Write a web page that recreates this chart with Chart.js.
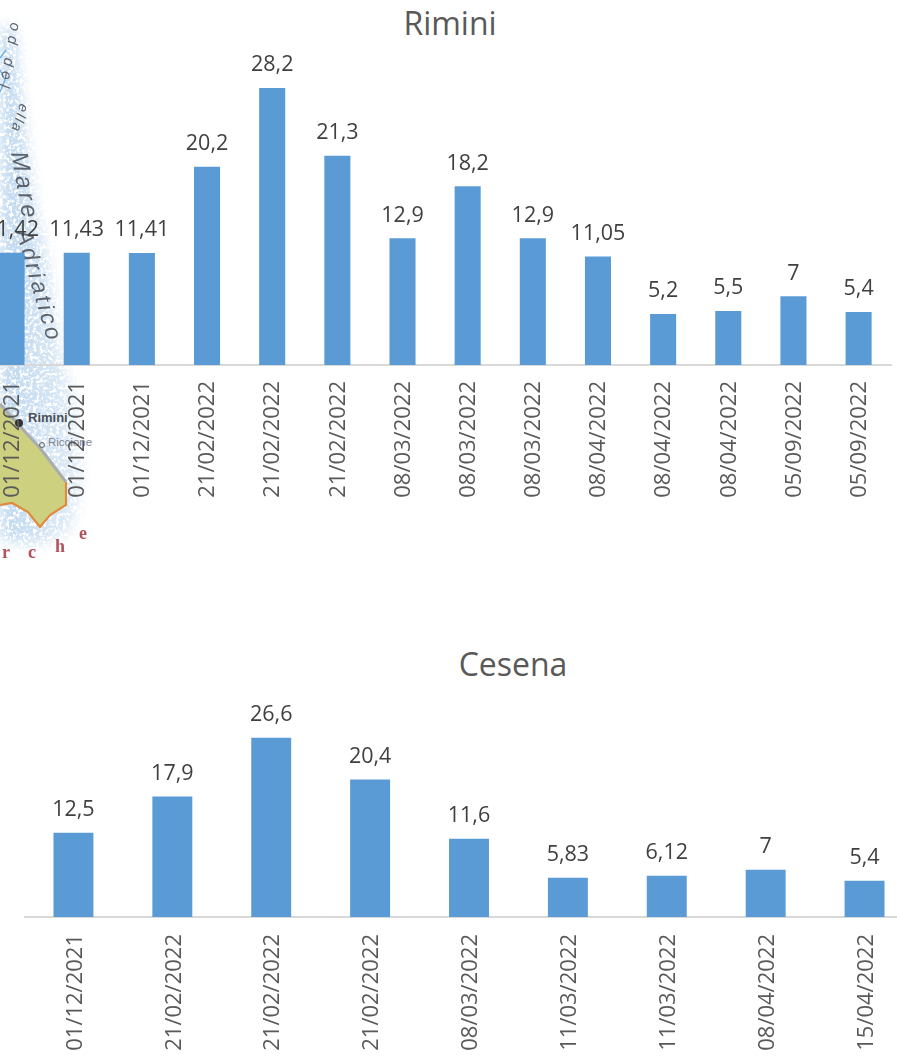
<!DOCTYPE html>
<html>
<head>
<meta charset="utf-8">
<script src="https://cdn.jsdelivr.net/npm/chart.js@4/dist/chart.umd.min.js"></script>
<style>
  html, body { margin: 0; padding: 0; background: #fff; }
  body { position: relative; width: 897px; height: 1058px; overflow: hidden; font-family: "Open Sans", sans-serif; }
  canvas { position: absolute; }
  #map { position: absolute; left: 0; top: 0; }
  .title { position: absolute; color: #595959; font-size: 32px; line-height: 38px; transform: translateX(-50%); white-space: nowrap; }
</style>
</head>
<body>
<svg id="map" width="110" height="600" viewBox="0 0 110 600">
  <defs>
    <filter id="soft" x="-30%" y="-10%" width="160%" height="120%">
      <feGaussianBlur stdDeviation="7" result="blur"/>
      <feTurbulence type="fractalNoise" baseFrequency="0.3" numOctaves="2" seed="4"/>
      <feColorMatrix type="matrix" values="0 0 0 0 1  0 0 0 0 1  0 0 0 0 1  0 0 0 -6 3.1" result="specks"/>
      <feComposite in="blur" in2="specks" operator="out"/>
    </filter>
    <filter id="edge"><feGaussianBlur stdDeviation="0.7"/></filter>
    <linearGradient id="sea" x1="0" x2="1" y1="0" y2="0">
      <stop offset="0" stop-color="#bdd7ef"/>
      <stop offset="1" stop-color="#e2edf7"/>
    </linearGradient>
  </defs>
  <path d="M0 30 L14 24 L24 120 L34 200 L50 270 L58 340 L72 395 L78 440 L82 480 L72 530 L40 545 L0 540 Z" fill="url(#sea)" filter="url(#soft)"/>
  <path d="M0 404 L18 424 L40 448 L66 482 L66 505 L50 515 L40 527 L28 512 L12 503 L0 505 Z" fill="#cdd07f" filter="url(#edge)"/>
  <path d="M66 482 L66 505 L50 515 L40 527 L28 512 L12 503 L0 505" fill="none" stroke="#e08a3c" stroke-width="2.2" filter="url(#edge)"/>
  <path d="M0 404 L18 424 L40 448 L66 482" fill="none" stroke="#a9adb0" stroke-width="3" filter="url(#edge)"/>
  <path d="M0 58 L6 50 M0 70 L5 80 L0 92" fill="none" stroke="#6fb0e2" stroke-width="1.4"/>
  <g fill="#5c646d" font-family="'Liberation Sans', sans-serif" font-style="italic" filter="url(#edge)">
    <text transform="translate(11,22) rotate(100)" font-size="15" letter-spacing="5">od del</text>
    <text transform="translate(20,103) rotate(108)" font-size="14" letter-spacing="2">ella</text>
    <text transform="translate(11,153) rotate(80)" font-size="24" letter-spacing="4">Mare</text>
    <text transform="translate(16,232) rotate(74)" font-size="23" letter-spacing="3">Adriatico</text>
  </g>
  <circle cx="19" cy="423" r="4" fill="#333"/>
  <text x="28" y="422" font-family="'Liberation Sans', sans-serif" font-size="13" font-weight="bold" fill="#4b5058">Rimini</text>
  <circle cx="42" cy="445" r="2.5" fill="none" stroke="#666"/>
  <text x="48" y="446" font-family="'Liberation Sans', sans-serif" font-size="11.5" fill="#7d8794">Riccione</text>
  <g fill="#b0525c" font-family="'Liberation Serif', serif" font-weight="bold" font-size="18" filter="url(#edge)">
    <text x="2" y="558">r</text>
    <text x="28" y="558">c</text>
    <text x="55" y="552">h</text>
    <text x="79" y="539">e</text>
  </g>
</svg>

<div class="title" style="left:450px;top:4px">Rimini</div>
<canvas id="rimini" width="922" height="510" style="left:-21px;top:40px"></canvas>

<div class="title" style="left:513px;top:645px">Cesena</div>
<canvas id="cesena" width="890" height="368" style="left:24px;top:690px"></canvas>

<script>
const riminiDates = ["01/12/2021", "01/12/2021", "01/12/2021", "21/02/2022", "21/02/2022", "21/02/2022", "08/03/2022",
  "08/03/2022", "08/03/2022", "08/04/2022", "08/04/2022", "08/04/2022", "05/09/2022", "05/09/2022"];
const riminiValues = [11.42, 11.43, 11.41, 20.2, 28.2, 21.3, 12.9, 18.2, 12.9, 11.05, 5.2, 5.5, 7, 5.4];

const cesenaDates = ["01/12/2021", "21/02/2022", "21/02/2022", "21/02/2022", "08/03/2022", "11/03/2022", "11/03/2022",
  "08/04/2022", "15/04/2022"];
const cesenaValues = [12.5, 17.9, 26.6, 20.4, 11.6, 5.83, 6.12, 7, 5.4];

const BAR_COLOR = "#5B9BD5";
const FONT = '"Open Sans", sans-serif';

// writes the value above each bar, with a decimal comma
const valueLabels = {
  id: "valueLabels",
  afterDatasetsDraw(chart) {
    const ctx = chart.ctx;
    const values = chart.data.datasets[0].data;
    ctx.save();
    ctx.font = "21.5px " + FONT;
    ctx.fillStyle = "#404040";
    ctx.textAlign = "center";
    ctx.textBaseline = "bottom";
    chart.getDatasetMeta(0).data.forEach((bar, i) => {
      ctx.fillText(String(values[i]).replace(".", ","), bar.x, bar.y - 12);
    });
    ctx.restore();
  },
};

function drawChart(id, labels, values, yMax, axisHeight, barPercentage, tickPadding, labelOffset) {
  return new Chart(document.getElementById(id), {
    type: "bar",
    data: {
      labels: labels,
      datasets: [{ data: values, backgroundColor: BAR_COLOR, barPercentage: barPercentage, categoryPercentage: 1 }],
    },
    options: {
      responsive: false,
      animation: false,
      layout: { padding: 0 },
      plugins: { legend: { display: false }, tooltip: { enabled: false } },
      scales: {
        x: {
          grid: { display: false, drawTicks: false },
          border: { display: true, color: "#D9D9D9", width: 2 },
          ticks: {
            color: "#595959",
            font: { family: FONT, size: 22 },
            autoSkip: false,
            minRotation: 90,
            maxRotation: 90,
            padding: tickPadding,
            labelOffset: labelOffset,
          },
          afterFit: (axis) => { axis.height = axisHeight; },
        },
        y: { display: false, min: 0, max: yMax },
      },
    },
    plugins: [valueLabels],
  });
}

drawChart("rimini", riminiDates, riminiValues, 33.1, 185, 0.4, 16, 1);
drawChart("cesena", cesenaDates, cesenaValues, 33.7, 141, 0.404, 17, 2);
</script>
</body>
</html>
